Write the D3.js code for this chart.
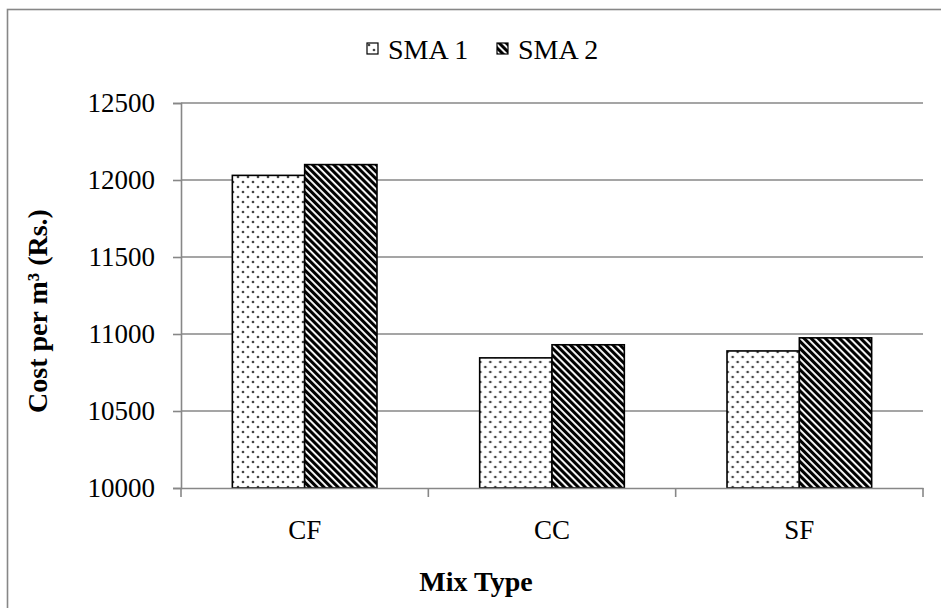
<!DOCTYPE html>
<html>
<head>
<meta charset="utf-8">
<script src="https://cdn.jsdelivr.net/npm/d3@7"></script>
<style>
  body { margin: 0; background: #fff; }
  svg text { font-family: "Liberation Serif", "Times New Roman", serif; fill: #000; }
</style>
</head>
<body>
<svg width="941" height="608"></svg>
<script>
var categories = ["CF", "CC", "SF"];
var seriesNames = ["SMA 1", "SMA 2"];
var sma1 = [12030, 10845, 10890];
var sma2 = [12100, 10930, 10975];
var yTicks = [10000, 10500, 11000, 11500, 12000, 12500];

var svg = d3.select("svg");
var plotLeft = 181, plotRight = 923, plotTop = 103, plotBottom = 488;
var gray = "#878787";
var serif = "Liberation Serif";

// outer chart border (runs off the right and bottom edge)
svg.append("rect")
  .attr("x", 7.5).attr("y", 9.5)
  .attr("width", 950).attr("height", 620)
  .attr("fill", "none").attr("stroke", gray).attr("stroke-width", 1.6);

var defs = svg.append("defs");
var dots = defs.append("pattern")
  .attr("id", "dots").attr("patternUnits", "userSpaceOnUse")
  .attr("width", 10).attr("height", 10);
dots.append("rect").attr("width", 10).attr("height", 10).attr("fill", "#fff");
dots.append("circle").attr("cx", 2).attr("cy", 2).attr("r", 1.35).attr("fill", "#444");
dots.append("circle").attr("cx", 7).attr("cy", 7).attr("r", 1.35).attr("fill", "#444");

var stripes = defs.append("pattern")
  .attr("id", "stripes").attr("patternUnits", "userSpaceOnUse")
  .attr("width", 5).attr("height", 10)
  .attr("patternTransform", "rotate(-45)");
stripes.append("rect").attr("width", 5).attr("height", 10).attr("fill", "#fff");
stripes.append("rect").attr("width", 3.1).attr("height", 10).attr("fill", "#000");

var fills = ["url(#dots)", "url(#stripes)"];

var x = d3.scaleBand().domain(categories).range([plotLeft, plotRight]).paddingInner(0).paddingOuter(0);
var xs = d3.scaleBand().domain(seriesNames).range([0, x.bandwidth()]).paddingInner(0).paddingOuter(0.71);
var y = d3.scaleLinear().domain([10000, 12500]).range([plotBottom, plotTop]);

// gridlines
svg.append("g").selectAll("line")
  .data(yTicks.slice(1))
  .enter().append("line")
  .attr("x1", plotLeft).attr("x2", plotRight)
  .attr("y1", function(d) { return y(d); })
  .attr("y2", function(d) { return y(d); })
  .attr("stroke", gray).attr("stroke-width", 1.6);

// y axis
var yAxis = svg.append("g")
  .attr("transform", "translate(" + plotLeft + ",0)")
  .call(d3.axisLeft(y).tickValues(yTicks).tickSize(8).tickPadding(18).tickFormat(d3.format("d")));
yAxis.select(".domain").attr("stroke", gray).attr("stroke-width", 1.6);
yAxis.selectAll(".tick line").attr("stroke", gray).attr("stroke-width", 1.6);
yAxis.selectAll(".tick text")
  .style("font-family", serif).style("font-size", "27px").attr("fill", "#000");

// bars
var rows = categories.map(function(c, i) { return { cat: c, vals: [sma1[i], sma2[i]] }; });
var grp = svg.append("g").selectAll("g")
  .data(rows).enter().append("g")
  .attr("transform", function(d) { return "translate(" + x(d.cat) + ",0)"; });
grp.selectAll("rect")
  .data(function(d) { return d.vals.map(function(v, j) { return { name: seriesNames[j], v: v, j: j }; }); })
  .enter().append("rect")
  .attr("x", function(d) { return xs(d.name); })
  .attr("width", xs.bandwidth())
  .attr("y", function(d) { return y(d.v); })
  .attr("height", function(d) { return y(10000) - y(d.v); })
  .attr("fill", function(d) { return fills[d.j]; })
  .attr("stroke", "#000").attr("stroke-width", 1.6);

// x axis
var xAxis = svg.append("g")
  .attr("transform", "translate(0," + plotBottom + ")")
  .call(d3.axisBottom(x).tickSize(0).tickPadding(32));
xAxis.select(".domain").attr("stroke", gray).attr("stroke-width", 1.6);
xAxis.selectAll(".tick text")
  .style("font-family", serif).style("font-size", "27px").attr("fill", "#000");
[plotLeft, plotRight].concat(categories.slice(1).map(function(c) { return x(c); })).forEach(function(px) {
  svg.append("line")
    .attr("x1", px).attr("x2", px).attr("y1", plotBottom).attr("y2", plotBottom + 9)
    .attr("stroke", gray).attr("stroke-width", 1.6);
});

// axis titles
svg.append("text")
  .attr("x", 476).attr("y", 591)
  .attr("text-anchor", "middle")
  .style("font-family", serif).style("font-size", "28px").style("font-weight", "bold")
  .text("Mix Type");

svg.append("text")
  .attr("transform", "translate(47,311) rotate(-90)")
  .attr("text-anchor", "middle")
  .style("font-family", serif).style("font-size", "28px").style("font-weight", "bold")
  .text("Cost per m³ (Rs.)");

// legend
var legendX = [367, 497];
var legend = svg.append("g").selectAll("g")
  .data(seriesNames).enter().append("g")
  .attr("transform", function(d, i) { return "translate(" + legendX[i] + ",43)"; });
legend.append("rect")
  .attr("width", 11).attr("height", 11)
  .attr("fill", function(d, i) { return fills[i]; })
  .attr("stroke", "#000").attr("stroke-width", 1.2);
legend.append("text")
  .attr("x", 21).attr("y", 16)
  .style("font-family", serif).style("font-size", "28px")
  .text(function(d) { return d; });
</script>
</body>
</html>
